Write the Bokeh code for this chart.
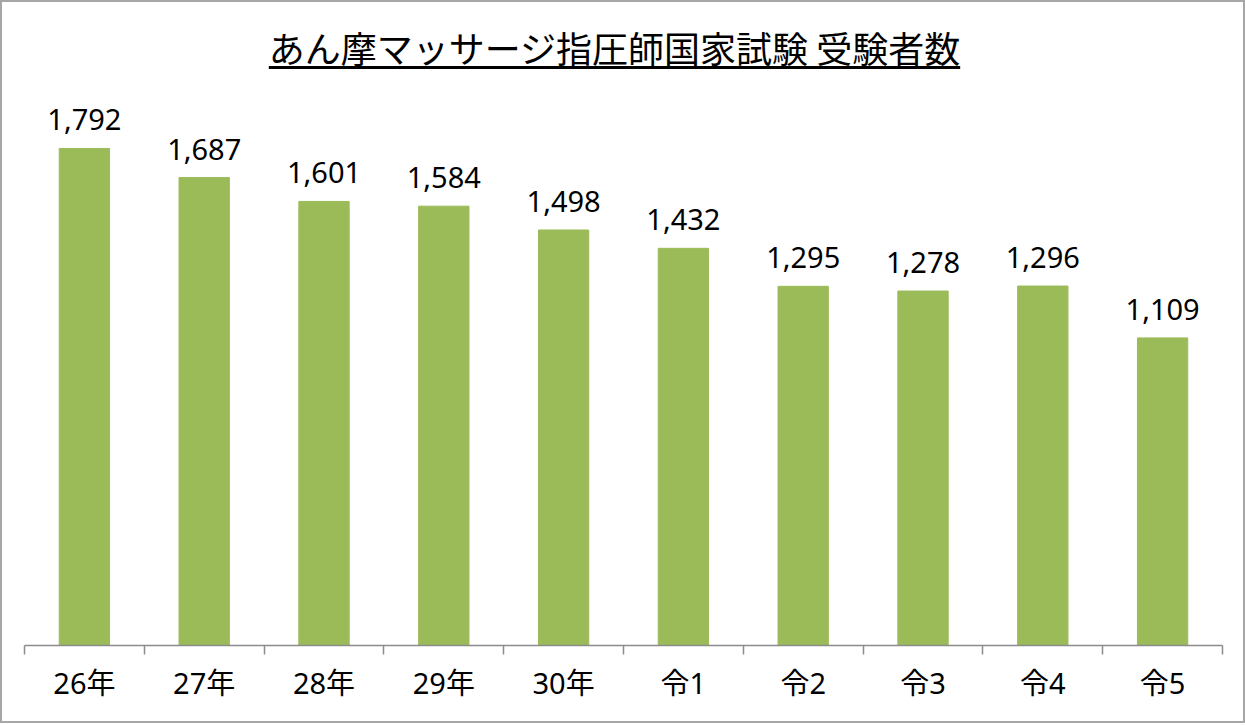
import numpy as np
from bokeh.plotting import figure
from bokeh.models import ColumnDataSource, Range1d, FixedTicker, Div, Column, LinearAxis
from bokeh.core.properties import value
from bokeh.embed import file_html
from bokeh.resources import INLINE

title_text = "あん摩マッサージ指圧師国家試験 受験者数"
years = ["26年", "27年", "28年", "29年", "30年", "令1", "令2", "令3", "令4", "令5"]
counts = [1792, 1687, 1601, 1584, 1498, 1432, 1295, 1278, 1296, 1109]

xpos = np.arange(len(years)) + 0.5
src = ColumnDataSource(dict(x=xpos, y=counts, label=[f"{c:,}" for c in counts]))

FONT = "Noto Sans, Noto Sans CJK JP"

p = figure(width=1241, height=631, output_backend="svg", toolbar_location=None,
           x_range=Range1d(0, len(years)), y_range=Range1d(0, 2001),
           x_axis_location=None, y_axis_location=None,
           min_border_left=22, min_border_right=21, min_border_top=0, min_border_bottom=76)
p.outline_line_color = None
p.grid.visible = False
p.background_fill_color = "white"
p.border_fill_color = "white"
p.margin = 0

p.vbar(x="x", top="y", width=0.42, bottom=0, source=src, color="#9BBB59")
p.text(x="x", y="y", text="label", source=src, text_align="center",
       text_baseline="bottom", y_offset=-18, text_font=value(FONT),
       text_font_size="29px", text_color="black")

ax = LinearAxis(ticker=FixedTicker(ticks=list(xpos), minor_ticks=list(range(len(years) + 1))))
ax.major_label_overrides = {float(x): y for x, y in zip(xpos, years)}
ax.major_tick_line_color = None
ax.major_tick_out = 0
ax.major_tick_in = 0
ax.minor_tick_out = 9
ax.minor_tick_in = 0
ax.minor_tick_line_color = "#8c8c8c"
ax.minor_tick_line_width = 1.5
ax.axis_line_color = "#8c8c8c"
ax.axis_line_width = 1.5
ax.major_label_text_font = FONT
ax.major_label_text_font_size = "29px"
ax.major_label_text_color = "black"
ax.major_label_standoff = 8
p.add_layout(ax, "below")

title = Div(text=f"<div style='width:1241px;padding-top:27px;padding-right:16px;box-sizing:border-box;"
                 f"text-align:center;line-height:1;"
                 f"font-family:\"Noto Sans CJK JP\";font-size:36px;color:black;'>"
                 f"<span style='text-decoration:underline;text-decoration-thickness:3px;"
                 f"text-underline-offset:3px;'>{title_text}</span></div>",
            width=1241, height=88, margin=0)

layout = Column(children=[title, p], margin=0,
                styles={"border": "2px solid #a6a6a6", "background": "white"})

open("out.html", "w").write(file_html(layout, INLINE))
